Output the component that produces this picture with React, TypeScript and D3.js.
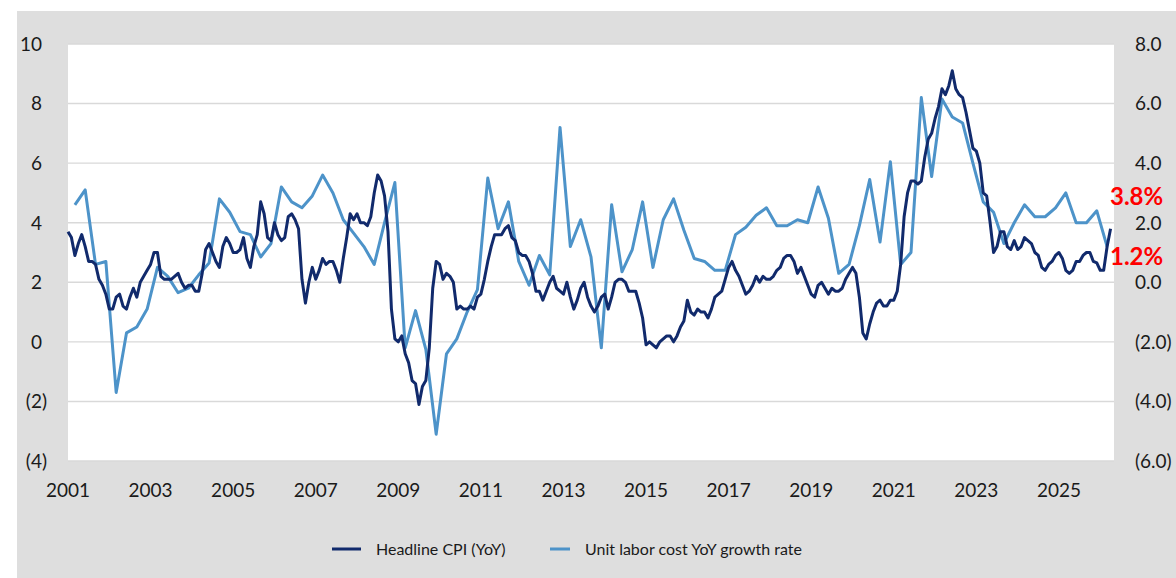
import React from 'react';
import * as d3 from 'd3';

// Headline CPI YoY, monthly from Jan 2001 (left axis)
const cpiMonthly = [
  3.7, 3.5, 2.9, 3.3, 3.6, 3.2, 2.7, 2.7, 2.6, 2.1, 1.9, 1.6,
  1.1, 1.1, 1.5, 1.6, 1.2, 1.1, 1.5, 1.8, 1.5, 2.0, 2.2, 2.4,
  2.6, 3.0, 3.0, 2.2, 2.1, 2.1, 2.1, 2.2, 2.3, 2.0, 1.8, 1.9,
  1.9, 1.7, 1.7, 2.3, 3.1, 3.3, 3.0, 2.7, 2.5, 3.2, 3.5, 3.3,
  3.0, 3.0, 3.1, 3.5, 2.8, 2.5, 3.2, 3.6, 4.7, 4.3, 3.5, 3.4,
  4.0, 3.6, 3.4, 3.5, 4.2, 4.3, 4.1, 3.8, 2.1, 1.3, 2.0, 2.5,
  2.1, 2.4, 2.8, 2.6, 2.7, 2.7, 2.4, 2.0, 2.8, 3.5, 4.3, 4.1,
  4.3, 4.0, 4.0, 3.9, 4.2, 5.0, 5.6, 5.4, 4.9, 3.7, 1.1, 0.1,
  0.0, 0.2, -0.4, -0.7, -1.3, -1.4, -2.1, -1.5, -1.3, -0.2, 1.8, 2.7,
  2.6, 2.1, 2.3, 2.2, 2.0, 1.1, 1.2, 1.1, 1.1, 1.2, 1.1, 1.5,
  1.6, 2.1, 2.7, 3.2, 3.6, 3.6, 3.6, 3.8, 3.9, 3.5, 3.4, 3.0,
  2.9, 2.9, 2.7, 2.3, 1.7, 1.7, 1.4, 1.7, 2.0, 2.2, 1.8, 1.7,
  1.6, 2.0, 1.5, 1.1, 1.4, 1.8, 2.0, 1.5, 1.2, 1.0, 1.2, 1.5,
  1.6, 1.1, 1.5, 2.0, 2.1, 2.1, 2.0, 1.7, 1.7, 1.7, 1.3, 0.8,
  -0.1, 0.0, -0.1, -0.2, 0.0, 0.1, 0.2, 0.2, 0.0, 0.2, 0.5, 0.7,
  1.4, 1.0, 0.9, 1.1, 1.0, 1.0, 0.8, 1.1, 1.5, 1.6, 1.7, 2.1,
  2.5, 2.7, 2.4, 2.2, 1.9, 1.6, 1.7, 1.9, 2.2, 2.0, 2.2, 2.1,
  2.1, 2.2, 2.4, 2.5, 2.8, 2.9, 2.9, 2.7, 2.3, 2.5, 2.2, 1.9,
  1.6, 1.5, 1.9, 2.0, 1.8, 1.6, 1.8, 1.7, 1.7, 1.8, 2.1, 2.3,
  2.5, 2.3, 1.5, 0.3, 0.1, 0.6, 1.0, 1.3, 1.4, 1.2, 1.2, 1.4,
  1.4, 1.7, 2.6, 4.2, 5.0, 5.4, 5.4, 5.3, 5.4, 6.2, 6.8, 7.0,
  7.5, 7.9, 8.5, 8.3, 8.6, 9.1, 8.5, 8.3, 8.2, 7.7, 7.1, 6.5,
  6.4, 6.0, 5.0, 4.9, 4.0, 3.0, 3.2, 3.7, 3.7, 3.2, 3.1, 3.4,
  3.1, 3.2, 3.5, 3.4, 3.3, 3.0, 2.9, 2.5, 2.4, 2.6, 2.7, 2.9,
  3.0, 2.8, 2.4, 2.3, 2.4, 2.7, 2.7, 2.9, 3.0, 3.0, 2.7, 2.65,
  2.4, 2.4, 3.2, 3.8,
];

// Unit labor cost YoY, quarterly from 2001Q1 (right axis)
const ulcQuarterly = [
  2.6, 3.1, 0.6, 0.7,
  -3.7, -1.7, -1.5, -0.9,
  0.5, 0.2, -0.35, -0.2,
  0.25, 0.65, 2.8, 2.35,
  1.7, 1.6, 0.85, 1.3,
  3.2, 2.7, 2.5, 2.9,
  3.6, 3.0, 2.1, 1.65,
  1.2, 0.6, 2.0, 3.35,
  -2.2, -0.95, -2.25, -5.1,
  -2.4, -1.9, -1.0, -0.25,
  3.5, 1.8, 2.7, 0.7,
  -0.1, 0.9, 0.25, 5.2,
  1.2, 2.1, 0.85, -2.2,
  2.6, 0.35, 1.1, 2.7,
  0.5, 2.1, 2.8, 1.75,
  0.8, 0.7, 0.4, 0.4,
  1.6, 1.85, 2.25, 2.5,
  1.9, 1.9, 2.1, 2.0,
  3.2, 2.15, 0.3, 0.6,
  1.9, 3.45, 1.35, 4.05,
  0.6, 1.0, 6.2, 3.55,
  6.15, 5.55, 5.35, 4.0,
  2.7, 2.35, 1.3, 2.0,
  2.6, 2.2, 2.2, 2.5,
  3.0, 2.0, 2.0, 2.4,
  1.2,
];

const leftTicks = [10, 8, 6, 4, 2, 0, -2, -4];
const rightTicks = [8, 6, 4, 2, 0, -2, -4, -6];
const yearLabels = [2001, 2003, 2005, 2007, 2009, 2011, 2013, 2015, 2017, 2019, 2021, 2023, 2025];
const seriesNames = ['Headline CPI (YoY)', 'Unit labor cost YoY growth rate'];
const callouts = ['3.8%', '1.2%'];

const W = 1176;
const H = 578;
const plot = { left: 68, right: 1114, top: 44, bottom: 461 };
const FONT = 'Lato, "Open Sans", sans-serif';
const DARK = '#112a6c';
const LIGHT = '#4d93c9';

export default function App() {
  // monthly category axis starting at Jan 2001
  const x = d3.scaleLinear().domain([0, 304]).range([plot.left, plot.right]);
  const yLeft = d3.scaleLinear().domain([-4, 10]).range([plot.bottom, plot.top]);
  const yRight = d3.scaleLinear().domain([-6, 8]).range([plot.bottom, plot.top]);

  const cpiLine = d3.line<number>()
    .x((_, i) => x(i))
    .y(d => yLeft(d));

  const ulcLine = d3.line<number>()
    .x((_, i) => x(i * 3 + 2))
    .y(d => yRight(d));

  const fmtLeft = (v: number) => (v < 0 ? `(${-v})` : `${v}`);
  const fmtRight = (v: number) => (v < 0 ? `(${(-v).toFixed(1)})` : v.toFixed(1));

  return (
    <svg
      width={W}
      height={H}
      style={{ position: 'absolute', left: 0, top: 0, display: 'block' }}
      fontFamily={FONT}
    >
      <rect x={0} y={0} width={W} height={H} fill="#ffffff" />
      <rect x={17} y={11} width={W - 17} height={H - 11} fill="#dedede" />
      <rect x={plot.left} y={plot.top} width={plot.right - plot.left} height={plot.bottom - plot.top} fill="#ffffff" />

      {/* gridlines */}
      {leftTicks.map(t => (
        <line key={t} x1={plot.left} x2={plot.right} y1={yLeft(t)} y2={yLeft(t)} stroke="#d9d9d9" strokeWidth={1.4} />
      ))}

      {/* left axis labels */}
      {leftTicks.map(t => (
        <text key={t} x={t < 0 ? 47 : 42} y={yLeft(t)} dy="0.36em" textAnchor="end" fontSize={19} fill="#1a1a1a">
          {fmtLeft(t)}
        </text>
      ))}

      {/* right axis labels */}
      {rightTicks.map(t => (
        <text key={t} x={1135} y={yRight(t)} dy="0.36em" textAnchor="start" fontSize={19} fill="#1a1a1a">
          {fmtRight(t)}
        </text>
      ))}

      {/* x axis labels */}
      {yearLabels.map(yr => (
        <text key={yr} x={x((yr - 2001) * 12)} y={497} textAnchor="middle" fontSize={19} fill="#1a1a1a">
          {yr}
        </text>
      ))}

      <path d={ulcLine(ulcQuarterly) || ''} fill="none" stroke={LIGHT} strokeWidth={3} strokeLinejoin="round" />
      <path d={cpiLine(cpiMonthly) || ''} fill="none" stroke={DARK} strokeWidth={3} strokeLinejoin="round" />

      {/* latest-value callouts */}
      <text x={1110} y={205} fontSize={24} fontWeight={700} fill="#ff0000">{callouts[0]}</text>
      <text x={1110} y={265} fontSize={24} fontWeight={700} fill="#ff0000">{callouts[1]}</text>

      {/* legend */}
      <line x1={332} x2={361} y1={549} y2={549} stroke={DARK} strokeWidth={3} />
      <text x={376} y={555} fontSize={16} fill="#1a1a1a">{seriesNames[0]}</text>
      <line x1={550} x2={570} y1={549} y2={549} stroke={LIGHT} strokeWidth={3} />
      <text x={585} y={555} fontSize={16} fill="#1a1a1a">{seriesNames[1]}</text>
    </svg>
  );
}
